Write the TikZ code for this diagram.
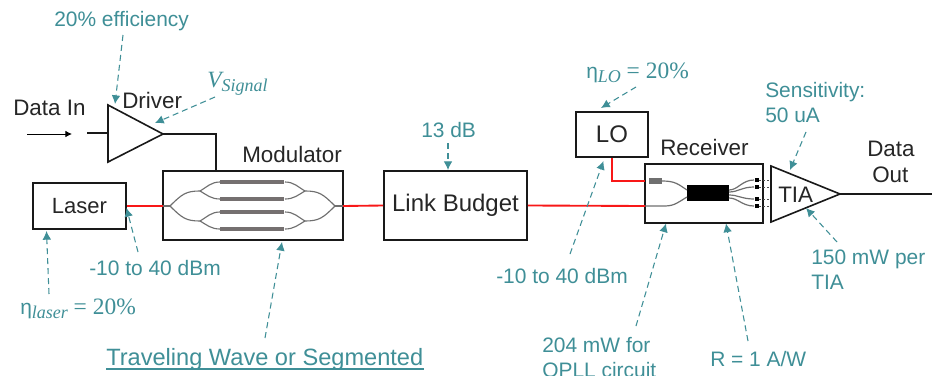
\documentclass[tikz,border=0pt]{standalone}
\usepackage{fontspec}
\setmainfont{Liberation Sans}
\newfontfamily\mathish{Liberation Serif}
\usetikzlibrary{arrows.meta,calc}
\definecolor{teal1}{HTML}{3F8F97}
\definecolor{wg}{HTML}{6F6F6F}
\definecolor{bar}{HTML}{757070}
\definecolor{redline}{HTML}{F81818}
\tikzset{
  x=0.75pt,y=-0.75pt,
  boxnode/.style={draw=black!90,line width=1.2pt,inner sep=0pt,fill=white,font=\fontsize{17.2pt}{18pt}\selectfont,text=black!85},
  blacktxt/.style={anchor=base west,inner sep=0pt,text=black!85,font=\fontsize{16.8pt}{18pt}\selectfont},
  tealtxt/.style={anchor=base west,inner sep=0pt,text=teal1,font=\fontsize{15.7pt}{18pt}\selectfont},
  tealarrow/.style={draw=teal1,line width=0.8pt,dash pattern=on 4.5pt off 3pt,-{Latex[length=6.5pt,width=6.5pt]}},
  optical/.style={draw=redline,line width=1.4pt},
  wire/.style={draw=black!90,line width=1.2pt},
  guide/.style={draw=wg,line width=0.85pt},
  barline/.style={draw=bar,line width=3.6pt},
}
\newcommand{\subtxt}[1]{\raisebox{-3pt}{\fontsize{13.5pt}{14pt}\selectfont\mathish\itshape #1}}
\newcommand{\eqtxt}[1]{{\fontsize{17.6pt}{18pt}\selectfont\mathish #1}}
\begin{document}
\begin{tikzpicture}
\clip (0,0) rectangle (932,375);
\fill[white] (0,0) rectangle (932,375);

% boxes
\node[boxnode,font=\fontsize{16.5pt}{18pt}\selectfont,minimum width=93*0.75pt,minimum height=46*0.75pt] (laser) at (79.5,206) {Laser};
\node[boxnode,minimum width=180*0.75pt,minimum height=69*0.75pt] (mod) at (253,205.5) {};
\node[boxnode,font=\fontsize{18pt}{18pt}\selectfont,minimum width=143*0.75pt,minimum height=69*0.75pt] (lb) at (455.5,205.5) {Link Budget};
\node[boxnode,font=\fontsize{18pt}{18pt}\selectfont,minimum width=72*0.75pt,minimum height=45*0.75pt] (lo) at (612,134.5) {LO};
\node[boxnode,minimum width=118*0.75pt,minimum height=59*0.75pt] (rx) at (704,193.5) {};

% driver and TIA triangles
\coordinate (dta) at (108,105); \coordinate (dtb) at (108,162); \coordinate (dto) at (163,134);
\coordinate (dti) at (108,133); \coordinate (dst) at (87,133);
\draw[wire,line join=miter] (dta) -- (dto) -- (dtb) -- cycle;
\draw[wire,line width=0.8pt] (dst) -- (dti);
\coordinate (tta) at (771,166); \coordinate (ttb) at (771,222); \coordinate (tto) at (840,194);
\coordinate (ttend) at (932,194);
\draw[wire,line join=miter] (tta) -- (tto) -- (ttb) -- cycle;
\draw[wire] (tto) -- (ttend);

% driver to modulator
\coordinate (mtop) at (216,171);
\draw[wire] (dto) -- (mtop |- dto) -- (mtop);

% data in arrow
\coordinate (dia) at (27,134); \coordinate (dib) at (72,134);
\draw[black,line width=0.7pt,-{Latex[length=5pt,width=5pt]}] (dia) -- (dib);

% modulator waveguides
\coordinate (ml) at (170,206); \coordinate (mr) at (335,206);
\coordinate (mli) at (163,206); \coordinate (mri) at (343,206);
\draw[guide] (mli) -- (ml);
\draw[guide] (mri) -- (mr);
\draw[guide] (ml) .. controls (182,194) and (186,191) .. (200,191);
\draw[guide] (ml) .. controls (182,218) and (186,221) .. (200,221);
\draw[guide] (mr) .. controls (323,194) and (319,191) .. (305,191);
\draw[guide] (mr) .. controls (323,218) and (319,221) .. (305,221);
\foreach \ya/\yb/\yc/\yu/\yd in {182/199/191/187/195,212/229/221/217/225}{
  \draw[guide] (200,\yc) .. controls (207,\yu) and (211,\ya) .. (220,\ya);
  \draw[guide] (200,\yc) .. controls (207,\yd) and (211,\yb) .. (220,\yb);
  \draw[guide] (305,\yc) .. controls (298,\yu) and (294,\ya) .. (285,\ya);
  \draw[guide] (305,\yc) .. controls (298,\yd) and (294,\yb) .. (285,\yb);
  \draw[barline] (220,\ya) -- (284,\ya);
  \draw[barline] (220,\yb) -- (284,\yb);
}

% receiver interior
\coordinate (rxlow) at (645,206);
\coordinate (rxup) at (645,181);
\fill[wg] (649,177.5) rectangle (662,184);
\fill[black] (687,185) rectangle (729,201);
\draw[guide,line width=0.9pt] (662,181) .. controls (675,181) and (678,184) .. (687,190);
\draw[guide,line width=0.9pt] (rxlow) -- (665,206) .. controls (675,206) and (680,201) .. (687,197);
\foreach \yy/\ys/\yl/\yh in {180/190/178/182,187/192/185/189,199/195/197/201,206/198/204/208}{
  \draw[guide,line width=0.9pt] (729,\ys) .. controls (738,\ys) and (742,\yy) .. (754,\yy);
  \fill[black] (754.5,\yl) rectangle (759,\yh);
  \draw[black!70,line width=0.5pt,dash pattern=on 1.5pt off 1.5pt] (759,\yy) -- (770,\yy);
}

% optical connections
\draw[optical] (laser.east) -- (mli);
\draw[optical] (mri) -- (lb.west);
\draw[optical] (lb.east) -- (rxlow);
\draw[optical] (lo.south) -- (lo.south |- rxup) -- (rxup);

% black labels
\node[blacktxt] (datain) at (13,115) {Data In};
\node[blacktxt] (driver) at (122,108) {Driver};
\node[blacktxt] (modl) at (242,162) {Modulator};
\node[blacktxt] (rxl) at (660,155) {Receiver};
\node[blacktxt] (tial) at (778,202) {TIA};
\node[blacktxt] (dout1) at (867,156) {Data};
\node[blacktxt] (dout2) at (872,182) {Out};

% teal labels
\node[tealtxt] (eff) at (54,26) {20\% efficiency};
\node[tealtxt] (vsig) at (207,87) {\mathish\itshape\fontsize{17.5pt}{18pt}\selectfont V\subtxt{Signal}};
\node[tealtxt] (etal) at (20,314) {η\subtxt{laser} \eqtxt{= 20\%}};
\node[tealtxt] (p1) at (89,275) {-10 to 40 dBm};
\node[tealtxt,font=\fontsize{17.7pt}{18pt}\selectfont] (trav) at (106,365) {Traveling Wave or Segmented};
\draw[teal1,line width=0.9pt] ($(trav.base west)+(0,4)$) -- ($(trav.base east)+(0,4)$);
\node[tealtxt] (thirteen) at (421,137) {13 dB};
\node[tealtxt] (etalo) at (586,78) {η\subtxt{LO} \eqtxt{= 20\%}};
\node[tealtxt] (p2) at (496,283) {-10 to 40 dBm};
\node[tealtxt] (sens1) at (765,97) {Sensitivity:};
\node[tealtxt] (sens2) at (765,122) {50 uA};
\node[tealtxt] (tp1) at (811,264) {150 mW per};
\node[tealtxt] (tp2) at (811,289) {TIA};
\node[tealtxt] (q1) at (542,352) {204 mW for};
\node[tealtxt] (q2) at (542,377) {OPLL circuit};
\node[tealtxt] (resp) at (710,366) {R = 1 A/W};

% annotation arrows
\coordinate (aa) at (123,35); \coordinate (ab) at (115,104);
\coordinate (ba) at (215,97); \coordinate (bb) at (155,123);
\coordinate (ca) at (49,294); \coordinate (cb) at (46.5,231);
\coordinate (da) at (138,252); \coordinate (db) at (126.5,208);
\coordinate (ea) at (265,338); \coordinate (eb) at (282,242);
\coordinate (fa) at (448,143); \coordinate (fb) at (448,170);
\coordinate (ga) at (636,87); \coordinate (gb) at (601,108);
\coordinate (ha) at (570,254); \coordinate (hb) at (603.5,161);
\coordinate (ia) at (636,326); \coordinate (ib) at (666,223.5);
\coordinate (ja) at (748,341); \coordinate (jb) at (726,223.5);
\coordinate (ka) at (806,132); \coordinate (kb) at (790,170);
\coordinate (la) at (837,242); \coordinate (lb2) at (806,208);
\foreach \p/\q in {aa/ab,ba/bb,ca/cb,da/db,ea/eb,fa/fb,ga/gb,ha/hb,ia/ib,ja/jb,ka/kb,la/lb2}{
  \draw[tealarrow] (\p) -- (\q);
}
\end{tikzpicture}
\end{document}
